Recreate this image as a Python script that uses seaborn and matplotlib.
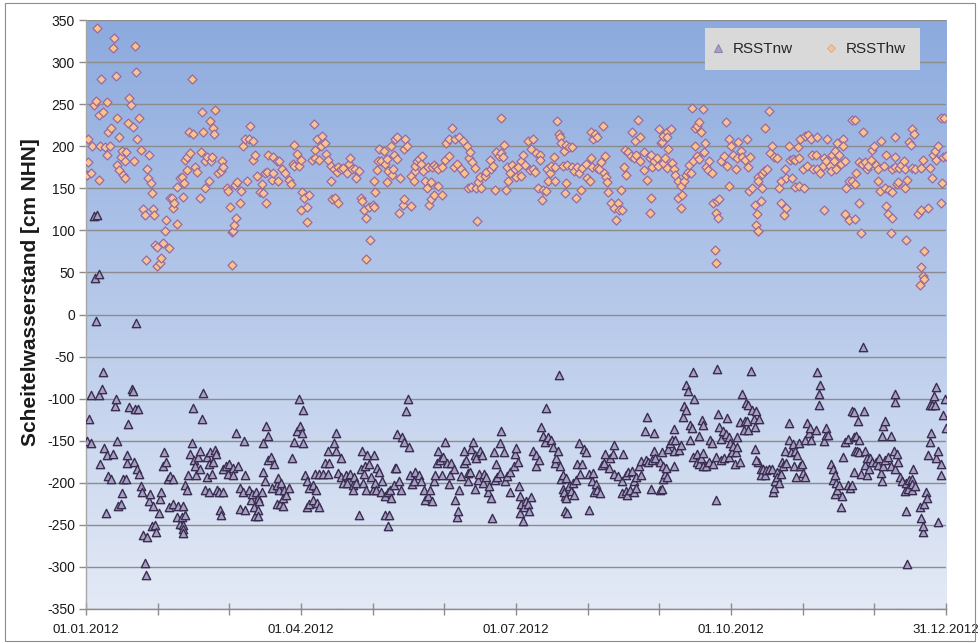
import numpy as np
import pandas as pd
import matplotlib
matplotlib.use("Agg")
import matplotlib.pyplot as plt
import seaborn as sns
from matplotlib.lines import Line2D
from matplotlib.patches import Rectangle

# ---------------- data (day 0 = 01.01.2012, values in cm NHN) ----------------
series_names = ["RSSTnw", "RSSThw"]
x_tick_labels = ["01.01.2012", "01.04.2012", "01.07.2012", "01.10.2012", "31.12.2012"]
y_ticks = list(range(-350, 351, 50))

hw_s1 = [(0.3,166),(0.85,209),(1,181),(2,168),(2.5,200),(3.4,249),(4.1,254),(4.5,340),(5.4,237),(5.5,160),
         (5.9,200),(6.5,280),(7.2,241),(7.9,199),(8.8,253),(9.1,190),(9.5,217),(10.2,200),(10.5,222),(11.6,317),
         (11.9,329),(12.6,284),(13,233),(13.3,178),(13.9,172),(14,211),(14.7,187),(15.4,194),(15.8,166),(16.4,162),
         (16.5,183),(17.1,193),(18,227),(18.2,257),(18.9,249),(19.9,223),(20.4,183),(20.8,319),(21.4,288),(21.8,208),
         (22.5,234),(23.5,196),(24.3,125),(25.1,118),(25.3,65),(26,173),(26.3,162),(26.7,190),(27.4,156),(28.1,144),
         (28.4,125),(28.9,118),(29.3,83),(30,58),(30.3,80),(31.4,61),(32,67),(32.7,85),(33.4,99),(34.1,112),
         (35.2,79),(35.6,138),(36.6,139),(37.1,127),(37.3,133),(38.5,108),(38.8,151),(39.9,162)]
hw_s2 = [(40.6,164),(41,140),(41.6,156),(42,184),(42.7,172),(43,187),(43.9,217),(44.1,192),(44.9,280),(45.6,214),
         (46.3,175),(47,169),(48.4,138),(48.7,193),(49.1,241),(49.5,217),(50.5,182),(50.5,150),(51.2,187),(52.4,159),
         (52.6,230),(52.9,182),(53.3,187),(53.8,222),(54.3,215),(54.8,243),(56.2,168),(57.2,171),(57.6,182),(58,175),
         (59.7,150),(60.4,147),(61.1,128),(61.8,98),(61.8,59),(62.3,99),(62.8,106),(63.3,154),(63.7,115),(64,157),
         (65.4,133),(65.6,147),(66.8,200),(67.5,209),(68.2,159),(69.3,208),(69.6,224),(70.7,184),(71,206),(71.7,190),
         (72.7,165),(73.9,146),(74.6,155),(75.3,144),(76,168),(76.4,133),(77,169),(77.4,190),(78.8,160),(79.5,187),
         (79.5,168),(80.9,182)]
hw_s3 = [(81.3,159),(81.8,183),(83.2,173),(84.6,168),(86.3,160),(87,155),(87.7,179),(88.4,202),(88.4,177),(89.4,191),
         (90.3,177),(91.2,184),(91.2,124),(91.6,146),(92.6,139),(93.6,128),(94,110),(94.7,142),(95.9,184),(96.9,226),
         (97.3,196),(97.3,186),(97.9,208),(99,184),(99.9,200),(100.1,212),(101.3,204),(101.8,191),(102.9,184),(103.9,177),
         (103.9,159),(104.6,137),(105.3,173),(105.7,138),(106.4,169),(106.8,175),(106.8,133),(108.2,173),(109.2,174),(110.6,168),
         (111.5,179),(112,186),(112.9,173),(114.3,173),(114.6,162),(116,170),(116.7,139),(117.1,135),(118.1,124),(118.8,115),
         (118.8,66),(119.9,128),(120.5,89),(121.6,130)]
hw_s4 = [(122.1,159),(122.1,128),(122.5,146),(123.5,172),(123.9,182),(124.5,197),(125.4,182),(126.4,194),(127.1,179),(127.7,185),
         (127.7,157),(128.2,171),(129.6,200),(129.9,166),(130.2,173),(130.6,190),(131.1,209),(132,211),(132,185),(132.7,121),
         (133.4,162),(134.4,130),(134.8,197),(134.8,137),(135.6,208),(136.3,200),(138.1,165),(138.1,129),(139.1,159),(139.5,171),
         (139.8,177),(140.5,182),(141.2,185),(142.3,179),(142.6,188),(142.9,171),(144,159),(144.7,150),(145.1,175),(145.7,130),
         (146.5,157),(146.5,137),(146.8,175),(147.5,178),(147.5,142),(148.5,175),(149.6,173),(149.6,153),(151,175),(151,142),
         (152.5,184),(152.8,204),(153.9,188),(154.2,208),(155.3,222),(156,175),(156.4,208),(157.4,179),(158.4,211),(159.3,173),
         (159.8,206),(160.3,168),(161.7,200),(162.1,150),(162.4,186)]
hw_s5 = [(162.8,193),(163.5,151),(163.8,181),(165.2,174),(165.6,150),(166.1,111),(166.3,157),(167.4,163),(167.7,150),(169.2,165),
         (169.9,169),(171.3,184),(172,173),(172.7,176),(173.4,148),(174.1,193),(175.1,188),(176,233),(176.3,192),(177,187),
         (177.4,202),(178.4,148),(178.8,175),(179.1,159),(179.8,168),(180.8,178),(182,173),(182.7,164),(183.4,175),(184.5,182),
         (184.8,165),(185.5,190),(186.5,178),(187.6,206),(188.4,172),(188.7,197),(189.7,208),(189.7,173),(190.7,169),(191.1,192),
         (191.8,150),(192.5,190),(192.5,184),(193.6,136),(194,148),(195.4,147),(195.8,173),(196.1,159),(196.8,168),(197.5,177),
         (198.6,187),(199.2,175),(199.2,159),(200.1,230),(200.6,215),(201,211),(201.7,204),(202.5,177),(202.9,194),(203.2,144)]
hw_s6 = [(203.6,202),(203.6,156),(204.3,178),(205,199),(206.4,199),(206.4,175),(207.1,171),(207.8,138),(208.5,175),(209.2,168),
         (209.9,148),(210.7,174),(212.1,179),(212.8,162),(213.9,159),(214.2,217),(214.2,186),(214.9,175),(215.3,209),(215.9,215),
         (217,211),(217,174),(217.8,173),(218.4,181),(219.6,224),(219.9,168),(220.1,188),(220.6,164),(221.3,157),(221.6,146),
         (222.8,133),(224.2,126),(224.9,112),(225.6,133),(226.3,124),(227,148),(227.7,124),(228.4,175),(228.7,195),(229.1,166),
         (230.1,193),(231.2,188),(231.9,217),(232.6,186),(232.9,206),(233.3,190),(234.3,231),(235.2,211),(235.2,182),(236.8,193),
         (236.8,172),(237.9,160),(239.3,186),(239.3,121),(239.9,190),(239.9,138),(240.2,175),(241,183),(242.2,186),(242.8,177),
         (243.2,220),(243.9,204)]
hw_s7 = [(244.3,205),(244.7,212),(245,180),(245.7,186),(246.5,217),(246.7,211),(246.7,174),(247.1,197),(248.1,220),(248.5,180),
         (249.5,173),(249.9,166),(251.4,159),(251.4,139),(252.4,153),(252.4,126),(252.8,142),(253.8,159),(254.7,166),(255.7,169),
         (256.1,178),(256.7,168),(257.4,245),(257.5,182),(258.5,222),(258.5,200),(259.4,224),(259.5,188),(260.3,229),(260.3,185),
         (261.1,217),(261.7,244),(262.3,193),(262.7,204),(263.1,175),(264.1,172),(264.5,182),(265.5,168),(266.2,133),(266.9,77),
         (267.4,121),(267.4,61),(267.7,135),(268.4,115),(268.8,137),(269.7,182),(270.8,188),(271.7,229),(272,177),(273,208),
         (273,153),(273.7,200),(274.4,190),(275.8,173),(276.3,186),(276.8,205),(277.9,194),(278.6,187),(279.6,184),(280.5,209),
         (281.1,175),(281.4,147),(281.9,187),(282.8,150),(283.8,130),(284.3,106),(284.7,119),(285,99),(285,164)]
hw_s8 = [(285.4,159),(285.4,99),(286.4,135),(286.9,167),(286.9,150),(287.9,171),(288.3,222),(289,173),(289.7,242),(290.2,192),
         (291.1,200),(292,187),(293.4,186),(294.2,150),(294.9,159),(294.9,133),(296.3,118),(296.7,173),(297,162),(297,127),
         (298.3,200),(298.6,184),(299.8,162),(300,185),(300.8,151),(301,184),(302,199),(302.5,153),(302.7,186),(303.1,208),
         (304.2,173),(304.9,150),(305.3,212),(305.8,177),(306.6,213),(307.6,208),(308,189),(308.6,173),(309.7,190),(310.4,211),
         (310.4,173),(311.4,168),(312.6,177),(313.2,186),(313.2,124),(314.2,182),(314.6,208),(315.6,177),(316.1,171),(316.6,190),
         (317.4,183),(317.8,194),(318.5,173),(318.9,204),(319.4,189),(320.6,179),(321.3,208),(321.3,200),(322,182),(322,119),
         (322.6,150),(323.7,159),(323.7,112),(324.9,231)]
hw_s9 = [(325.1,159),(326.2,231),(326.2,114),(326.5,155),(326.8,168),(327.9,181),(328.2,133),(329.1,97),(329.4,179),(329.6,217),
         (330.5,181),(331.5,173),(332,177),(333,184),(333.4,195),(334.3,200),(335.1,178),(336.1,159),(336.2,173),(337.1,147),
         (337.6,206),(338.6,177),(339.3,150),(339.6,190),(339.6,129),(340.5,119),(341,148),(341.6,97),(341.9,115),(342.1,173),
         (342.1,146),(343.2,187),(343.5,211),(343.5,175),(344.3,155),(344.6,157),(345.2,174),(346.1,178),(347.1,182),(347.5,150),
         (347.8,173),(348.2,88),(348.5,160),(349.5,205),(350.3,202),(350.6,220),(350.6,174),(351.3,214),(352,173),(353.3,120),
         (354.1,35),(354.3,124),(354.6,174),(354.6,57),(355.1,184),(355.1,46),(355.5,75),(355.8,42),(357.5,126),(358,174),
         (358.9,162),(359.5,190),(360.3,194),(360.9,184),(361.8,200),(362.8,234),(362.8,133),(363.2,156),(363.8,187),(364,233),
         (365,188)]

nw_s1 = [(0.3,-150),(1.3,-124),(2,-96),(2.3,-153),(3.4,117),(3.8,43),(4.1,-8),(4.8,118),(5.5,48),(5.5,-96),
         (5.9,-178),(6.9,-88),(7.3,-68),(7.6,-159),(8.3,-236),(8.8,-167),(9.3,-192),(10.5,-196),(11.6,-166),(12.2,-109),
         (12.6,-100),(13,-150),(13.6,-228),(14.7,-225),(15.4,-212),(15.9,-196),(16.8,-196),(17.3,-177),(17.5,-167),(18,-130),
         (18.2,-110),(19.4,-89),(20,-91),(20.4,-175),(21,-112),(21.1,-10),(21.8,-184),(22,-112),(22.5,-190),(23.5,-204),
         (23.9,-211),(24.3,-262),(24.9,-295),(25.3,-309),(26,-265),(26.7,-222),(27.1,-213),(28.2,-251),(28.6,-227),(29.2,-250),
         (29.6,-259),(31,-236),(31.4,-219),(32,-211),(32.7,-180),(33.1,-164),(33.8,-175),(34.8,-196),(35.2,-229),(35.6,-192),
         (37.1,-196),(37.1,-225),(38.5,-241),(39.1,-227),(39.9,-249)]
nw_s2 = [(40.6,-241),(41,-227),(41,-250),(41.3,-255),(41,-260),(42,-203),(42,-238),(43,-208),(43.4,-191),(44.2,-166),
         (44.9,-153),(45.6,-111),(45.9,-173),(46.3,-180),(46.7,-191),(47.7,-169),(48.4,-162),(48.4,-184),(49.1,-124),(49.5,-93),
         (50.5,-208),(51.2,-169),(51.2,-193),(52.4,-178),(52.4,-211),(52.7,-164),(53.3,-189),(54.1,-175),(54.8,-161),(55.2,-166),
         (55.8,-209),(56.6,-211),(56.9,-232),(57.2,-238),(58,-211),(58.3,-184),(59.4,-180),(60.1,-189),(60.8,-178),(62.3,-182),
         (62.6,-191),(63.7,-141),(64.7,-180),(65.4,-206),(65.4,-231),(66.8,-211),(67.2,-150),(67.5,-191),(67.5,-232),(69,-208),
         (70,-220),(70.3,-213),(71.1,-229),(71.8,-240),(72.2,-211),(72.8,-218),(72.8,-232),(73.2,-240),(73.6,-222),(74.6,-211),
         (75,-187),(75.3,-153),(76,-198),(76.4,-132),(77.4,-144),(77.4,-173),(78.4,-169),(79.1,-206),(79.8,-178),(80.9,-203),
         (80.9,-225)]
nw_s3 = [(81.3,-194),(82,-208),(82.3,-225),(82.7,-200),(83.4,-227),(83.7,-218),(84.1,-209),(84.8,-215),(86.3,-206),(87.4,-171),
         (88.4,-151),(89.4,-139),(90.2,-100),(90.8,-133),(91.6,-141),(91.9,-113),(92.2,-153),(93,-191),(94,-198),(94,-229),
         (94.7,-206),(94.7,-225),(96.2,-203),(96.2,-220),(97.3,-190),(97.6,-209),(97.9,-224),(98.7,-229),(99,-190),(100.4,-189),
         (101.4,-177),(102.5,-189),(102.9,-162),(103.2,-177),(105.4,-153),(106.1,-141),(106.1,-162),(106.8,-188),(108.2,-171),(108.2,-193),
         (109,-200),(110.3,-191),(110.6,-200),(112.1,-190),(113.2,-203),(113.5,-208),(113.9,-193),(114.6,-200),(115.7,-238),(116.7,-184),
         (117.1,-162),(117.4,-200),(118.1,-189),(118.5,-180),(118.8,-208),(119.1,-167),(120.3,-178),(121,-193),(121.9,-208)]
nw_s4 = [(122.1,-167),(122.5,-200),(123.1,-209),(123.5,-182),(124.5,-187),(125.4,-211),(125.6,-198),(126.8,-216),(127.1,-238),(128.2,-211),
         (128.2,-251),(128.6,-238),(129.2,-209),(129.6,-218),(130.6,-203),(131,-182),(131.6,-182),(132,-142),(132.7,-198),(133.8,-208),
         (134.1,-145),(134.8,-151),(135.8,-115),(136.7,-100),(136.9,-158),(137.6,-191),(138.4,-201),(139.1,-198),(139.8,-187),(141.2,-191),
         (142,-198),(143.3,-209),(144,-220),(145.1,-216),(146.1,-209),(146.8,-222),(147.5,-198),(148.2,-191),(148.9,-177),(149.3,-162),
         (150.3,-173),(151,-191),(151.7,-169),(152.5,-152),(153.2,-177),(153.9,-201),(154.6,-191),(155,-177),(156,-184),(156.7,-220),
         (157.4,-241),(157.8,-233),(158.5,-208),(159.3,-192),(160.4,-177),(160.4,-162),(161.4,-173),(162,-188)]
nw_s5 = [(162.1,-198),(162.8,-187),(163.5,-160),(164.2,-152),(164.9,-167),(165.2,-207),(165.6,-171),(166.3,-197),(167,-189),(167.4,-162),
         (168,-167),(168.4,-200),(168.9,-190),(169.9,-193),(170.6,-211),(170.9,-204),(171.7,-218),(172.3,-242),(173.1,-164),(173.4,-197),
         (174.1,-178),(174.5,-193),(175.6,-153),(175.6,-188),(176.3,-139),(177.4,-164),(177.7,-198),(178.8,-192),(179.8,-187),(179.8,-211),
         (181.7,-180),(182,-166),(182.6,-159),(183.4,-175),(183.6,-204),(184,-216),(184.4,-236),(184.7,-225),(185.4,-245),(185.8,-229),
         (186.8,-222),(187.8,-225),(188.2,-233),(189,-217),(189.7,-162),(191.1,-167),(191.1,-180),(192.1,-173),(193,-134),(194,-144),
         (194.7,-151),(195.4,-111),(196.1,-146),(197.3,-149),(198.2,-158),(199.2,-177),(199.6,-171),(200.3,-162),(200.6,-72),(201,-180),
         (201.4,-196),(202.4,-191),(202.4,-207),(203.1,-216),(203.1,-233)]
nw_s6 = [(202.9,-211),(203.6,-194),(203.6,-218),(204.1,-236),(205,-204),(206,-210),(206.8,-200),(207.1,-215),(207.8,-197),(208.5,-178),
         (209.2,-153),(209.6,-190),(210.7,-178),(211.3,-160),(212.4,-164),(213.5,-190),(213.5,-232),(214.9,-198),(215.3,-188),(215.6,-211),
         (216.4,-201),(217,-209),(218.2,-212),(219,-179),(220,-176),(220.3,-166),(221.9,-182),(222.4,-171),(223.6,-166),(223.9,-155),
         (224.3,-190),(225.7,-192),(227.5,-198),(227.7,-212),(228.1,-166),(229,-191),(229.2,-210),(229.8,-214),(230,-187),(230.9,-208),
         (231.7,-186),(232.6,-198),(232.6,-211),(233.3,-206),(233.6,-193),(234.5,-180),(235.6,-174),(235.6,-191),(237.2,-138),(237.6,-173),
         (238.3,-122),(238.6,-175),(239.9,-207),(240.1,-173),(240.9,-141),(240.9,-162),(241.6,-171),(243.6,-175),(243.7,-208)]
nw_s7 = [(244.3,-164),(244.3,-207),(244.7,-180),(245,-196),(245.7,-189),(246.2,-182),(246.7,-193),(247.1,-160),(247.8,-153),(248.5,-149),
         (249.5,-136),(249.5,-162),(249.5,-180),(249.9,-149),(251.8,-161),(252.4,-155),(253.3,-122),(253.6,-109),(254.7,-84),(254.7,-113),
         (255.3,-91),(256.4,-131),(256.4,-149),(257.2,-135),(257.5,-68),(257.8,-169),(258.2,-100),(259.2,-166),(259.5,-175),(260.3,-144),
         (260.3,-178),(260.9,-170),(261.3,-125),(261.7,-165),(261.7,-180),(262,-131),(263.2,-180),(264.4,-175),(264.9,-149),(265.6,-153),
         (266.2,-178),(267.3,-169),(267.3,-220),(267.7,-65),(268.1,-118),(268.8,-134),(269.7,-148),(269.7,-173),(270.5,-139),(270.8,-170),
         (271.7,-142),(272.2,-123),(272.8,-146),(273,-169),(273.4,-153),(274.1,-164),(274.8,-156),(275.5,-178),(275.9,-164),(276.1,-146),
         (276.4,-157),(277.6,-128),(277.6,-175),(278.3,-95),(279.1,-137),(279.6,-126),(280.2,-105),(280.6,-126),(281.1,-108),(281.1,-137),
         (282.1,-67),(282.5,-113),(283.5,-124),(284,-134),(284,-160),(285,-175)]
nw_s8 = [(284.3,-115),(284.3,-173),(285.7,-124),(286.4,-184),(286.4,-191),(287.4,-184),(288.3,-191),(288.4,-185),(289.8,-184),(291.1,-184),
         (291.4,-211),(292.1,-206),(292.5,-198),(293.1,-187),(293.4,-193),(294.2,-200),(294.9,-190),(295.3,-175),(295.9,-180),(296.7,-162),
         (297.3,-176),(298.2,-149),(298.4,-129),(299.3,-164),(300.2,-154),(300.5,-180),(300.9,-162),(301.3,-193),(301.9,-167),(302.5,-153),
         (303,-180),(303.8,-178),(304.2,-188),(305.2,-149),(305.2,-193),(305.8,-129),(306.7,-141),(307.4,-135),(307.8,-149),(309.7,-137),
         (310.3,-68),(311,-95),(311.3,-108),(311.7,-84),(313.1,-150),(314,-143),(314.2,-135),(315.1,-143),(316.1,-178),(316.9,-184),
         (316.9,-197),(317.8,-191),(318,-213),(318.3,-200),(318.6,-209),(319.4,-203),(320.6,-229),(320.9,-216),(321.3,-169),(322,-151),
         (323.2,-203),(323.6,-148),(324.2,-206),(324.9,-115),(324.9,-203)]
nw_s9 = [(325.8,-116),(325.8,-146),(325.8,-187),(326.2,-162),(326.8,-144),(327.2,-162),(327.6,-126),(327.9,-149),(328.2,-164),(329,-190),
         (329.6,-39),(330,-115),(330.5,-179),(330.7,-162),(331.5,-171),(331.5,-191),(332.3,-184),(332.8,-171),(333.8,-175),(335.2,-175),
         (336.1,-179),(336.6,-171),(337.5,-188),(337.8,-144),(337.8,-198),(338.2,-133),(338.2,-180),(339.3,-126),(339.3,-173),(340.5,-169),
         (341.5,-180),(341.7,-144),(342.9,-162),(343.2,-104),(343.2,-184),(343.5,-95),(344.3,-166),(344.6,-175),(345.6,-193),(346.4,-198),
         (347.6,-210),(348.2,-200),(348.2,-233),(348.5,-296),(349,-207),(349.3,-197),(350.4,-208),(350.6,-196),(350.6,-201),(350.9,-184),
         (351.7,-204),(353.9,-229),(354.6,-242),(355.1,-258),(355.4,-251),(355.5,-225),(356.4,-211),(356.9,-218),(357.4,-167),(358,-108),
         (358.4,-152),(358.8,-141),(359.1,-108),(359.8,-97),(360.5,-108),(360.8,-170),(360.9,-86),(361.8,-162),(361.8,-247),(362.8,-191),
         (363,-178),(363.8,-119),(364.5,-101),(365,-135)]

# ---------------- build frames ----------------
hw = pd.DataFrame(hw_s1 + hw_s2 + hw_s3 + hw_s4 + hw_s5 + hw_s6 + hw_s7 + hw_s8 + hw_s9, columns=["day", "cm"])
nw = pd.DataFrame(nw_s1 + nw_s2 + nw_s3 + nw_s4 + nw_s5 + nw_s6 + nw_s7 + nw_s8 + nw_s9, columns=["day", "cm"])

sns.set_theme(style="white")
plt.rcParams["font.family"] = ["Liberation Sans", "DejaVu Sans"]

W, H = 980, 643
fig = plt.figure(figsize=(W / 100, H / 100), dpi=100)
L, R, T, B = 86, 946, 20, 609
ax = fig.add_axes([L / W, 1 - B / H, (R - L) / W, (B - T) / H])

# gradient background of plot area
top = np.array([140, 170, 222]) / 255.0
bot = np.array([228, 234, 246]) / 255.0
t = np.linspace(0, 1, 256)[:, None]
grad = (top[None, :] * (1 - t) + bot[None, :] * t)[:, None, :]
ax.imshow(grad, extent=[0, 365, -350, 350], aspect="auto", origin="upper", zorder=0, interpolation="bilinear")

sns.scatterplot(data=nw, x="day", y="cm", marker="^", s=36, color="#A79FC4",
                edgecolor="#3A2E50", linewidth=1.0, ax=ax, zorder=3, legend=False)
sns.scatterplot(data=hw, x="day", y="cm", marker="D", s=21, color="#F9C38F",
                edgecolor="#9A6A9E", linewidth=0.9, ax=ax, zorder=4, legend=False)

ax.set_xlim(0, 365)
ax.set_ylim(-350, 350)
ax.set_yticks(y_ticks)
ax.set_yticklabels([str(v) for v in y_ticks])
xt = np.linspace(0, 365, 13)
ax.set_xticks(xt)
lab_iter = iter(x_tick_labels)
ax.set_xticklabels([next(lab_iter) if i % 3 == 0 else "" for i in range(13)])

ax.set_axisbelow(True)
ax.grid(axis="y", color="#8C8C8C", linewidth=1.0)
ax.grid(axis="x", visible=False)
for s in ["top", "right"]:
    ax.spines[s].set_visible(False)
ax.spines["left"].set_color("#A6A6A6")
ax.spines["left"].set_linewidth(1.0)
ax.spines["bottom"].set_color("#8C8C8C")
ax.spines["bottom"].set_linewidth(1.0)
ax.tick_params(axis="y", direction="out", length=5, width=1, color="#8C8C8C",
               labelsize=10, labelcolor="#1a1a1a", pad=3, left=True)
ax.tick_params(axis="x", direction="inout", length=8, width=1, color="#8C8C8C",
               labelsize=9.5, labelcolor="#1a1a1a", pad=7, bottom=True)

ax.set_xlabel("")
ax.set_ylabel("Scheitelwasserstand [cm NHN]", fontsize=15, fontweight="bold", color="#1a1a1a")
ax.yaxis.set_label_coords(-(L - 40) / (R - L), (B - 292) / (B - T))

# legend: grey box + entries
ax.add_patch(Rectangle(((705 - L) / (R - L), (B - 70) / (B - T)), 215 / (R - L), 42 / (B - T),
                       transform=ax.transAxes, facecolor="#D9D9D9", edgecolor="none", zorder=9))
h_nw = Line2D([], [], marker="^", ls="none", markersize=6, markerfacecolor="#A79FC4",
              markeredgecolor="#8E86AE", markeredgewidth=0.8)
h_hw = Line2D([], [], marker="D", ls="none", markersize=4.5, markerfacecolor="#F9C38F",
              markeredgecolor="#E4AE86", markeredgewidth=0.8)
leg = ax.legend([h_nw, h_hw], series_names, ncol=2, loc="center left",
                bbox_to_anchor=((712 - L) / (R - L), (B - 49) / (B - T)),
                frameon=False, borderaxespad=0, borderpad=0, handlelength=0.8,
                handletextpad=0.55, columnspacing=2.1, fontsize=11)
leg.set_zorder(10)

fig.patches.append(Rectangle((5 / W, 2 / H), 970 / W, 638 / H, transform=fig.transFigure,
                             fill=False, edgecolor="#8C8C8C", linewidth=0.8))

fig.savefig("out.png", dpi=100, facecolor="white")
